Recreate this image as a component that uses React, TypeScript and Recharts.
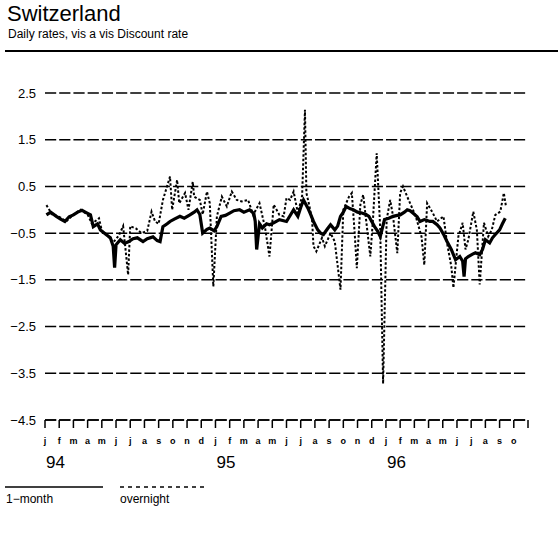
import React from 'react';
import { LineChart, Line, XAxis, YAxis, CartesianGrid } from 'recharts';

// months since Jan 1994 -> spread vs discount rate (pp)
const oneMonthTimes = [
  0.1, 0.4, 0.8, 1.1, 1.4, 1.7, 2.0, 2.3, 2.6, 2.9, 3.2, 3.4, 3.7, 3.9, 4.3, 4.6, 4.8, 4.9, 5.0, 5.3,
  5.6, 5.9, 6.2, 6.5, 6.9, 7.2, 7.6, 7.9, 8.1, 8.3, 8.6, 8.8, 9.1, 9.5, 9.8, 10.2, 10.5, 10.7, 10.9,
  11.1, 11.4, 11.6, 11.9, 12.1, 12.4, 12.7, 13.0, 13.3, 13.7, 14.0, 14.4, 14.7, 14.8, 14.9, 15.1,
  15.3, 15.6, 15.8, 16.1, 16.5, 17.0, 17.3, 17.5, 17.8, 18.0, 18.2, 18.5, 18.7, 18.9, 19.2, 19.4,
  19.6, 19.9, 20.1, 20.4, 20.6, 20.8, 21.0, 21.2, 21.5, 21.7, 22.0, 22.3, 22.6, 22.8, 23.0, 23.2,
  23.4, 23.6, 23.9, 24.2, 24.5, 24.8, 25.0, 25.3, 25.5, 25.7, 25.9, 26.2, 26.4, 26.7, 26.9, 27.1,
  27.3, 27.6, 27.8, 28.1, 28.3, 28.6, 28.9, 29.2, 29.4, 29.5, 29.6, 29.8, 30.1, 30.3, 30.6, 30.8,
  31.0, 31.3, 31.5, 31.7, 32.0, 32.2, 32.4,
];
const oneMonthRates = [
  -0.11, -0.05, -0.14, -0.2, -0.25, -0.15, -0.11, -0.05, -0.01, -0.06, -0.11, -0.36, -0.3, -0.43,
  -0.53, -0.6, -0.78, -1.24, -0.75, -0.64, -0.72, -0.68, -0.62, -0.6, -0.68, -0.62, -0.58, -0.66,
  -0.68, -0.36, -0.3, -0.25, -0.2, -0.14, -0.18, -0.11, -0.05, 0.0, -0.1, -0.5, -0.42, -0.39, -0.45,
  -0.36, -0.14, -0.12, -0.07, -0.02, 0.0, -0.05, 0.0, -0.08, -0.25, -0.85, -0.3, -0.39, -0.3, -0.32,
  -0.28, -0.21, -0.25, -0.1, 0.0, -0.14, 0.05, 0.21, 0.04, -0.1, -0.25, -0.43, -0.5, -0.53, -0.4,
  -0.32, -0.43, -0.35, -0.14, -0.05, 0.07, 0.02, 0.0, -0.05, -0.07, -0.1, -0.14, -0.25, -0.36, -0.45,
  -0.57, -0.21, -0.18, -0.14, -0.12, -0.11, -0.05, 0.0, -0.02, -0.07, -0.15, -0.25, -0.21, -0.23,
  -0.25, -0.25, -0.32, -0.39, -0.55, -0.68, -0.85, -1.07, -1.0, -1.1, -1.43, -1.05, -1.0, -0.95,
  -0.92, -0.96, -0.85, -0.64, -0.71, -0.6, -0.53, -0.43, -0.3, -0.18,
];

const overnightTimes = [
  0.1, 0.5, 1.0, 1.5, 2.0, 2.5, 3.0, 3.3, 3.8, 4.0, 4.4, 4.8, 5.2, 5.5, 5.85, 6.0, 6.4, 6.8, 7.2,
  7.5, 7.75, 8.0, 8.3, 8.45, 8.8, 8.95, 9.3, 9.45, 9.86, 10.1, 10.4, 10.5, 10.9, 11.1, 11.4, 11.6,
  11.85, 12.1, 12.45, 12.8, 13.15, 13.5, 13.85, 14.3, 14.65, 15.1, 15.5, 15.8, 16.1, 16.5, 16.8,
  17.0, 17.25, 17.5, 17.8, 18.1, 18.3, 18.4, 18.6, 18.8, 18.9, 19.1, 19.5, 19.7, 20.1, 20.4, 20.8,
  21.0, 21.4, 21.6, 21.8, 21.95, 22.2, 22.4, 22.6, 22.9, 23.1, 23.35, 23.6, 23.8, 24.05, 24.3, 24.5,
  24.8, 25.0, 25.2, 25.5, 25.8, 26.1, 26.5, 26.7, 26.9, 27.3, 27.6, 28.05, 28.3, 28.6, 28.75, 29.1,
  29.4, 29.6, 29.8, 30.15, 30.4, 30.6, 30.9, 31.2, 31.45, 31.7, 32.05, 32.3, 32.45,
];
const overnightRates = [
  0.1, -0.1, -0.15, -0.25, -0.1, 0.0, -0.1, -0.3, -0.18, -0.45, -0.55, -0.7, -0.55, -0.35, -1.39,
  -0.35, -0.4, -0.5, -0.45, -0.04, -0.25, -0.3, 0.21, 0.36, 0.71, 0.0, 0.64, 0.14, 0.36, 0.0, 0.6,
  0.28, 0.21, -0.1, 0.39, 0.14, -1.64, -0.14, 0.28, 0.07, 0.39, 0.21, 0.18, 0.21, -0.11, 0.14, -0.4,
  -1.0, 0.11, -0.11, -0.14, 0.25, 0.21, 0.39, -0.07, 0.3, 2.14, 0.36, 0.1, -0.21, -0.78, -0.89,
  -0.6, -0.78, -0.5, -0.68, -1.71, 0.0, 0.28, 0.36, -0.5, -1.25, 0.11, 0.32, -0.21, -1.0, -0.14,
  1.21, -0.43, -3.72, -0.21, 0.21, -0.14, -0.93, 0.36, 0.5, 0.28, 0.07, -0.14, -0.57, -1.18, 0.14,
  -0.07, -0.25, -0.14, -0.71, -1.21, -1.67, -0.57, -0.28, -0.85, -0.64, -0.04, -0.43, -1.6, -0.28,
  -0.57, -0.43, -0.11, -0.04, 0.36, 0.07,
];

const yTicks = [2.5, 1.5, 0.5, -0.5, -1.5, -2.5, -3.5, -4.5];
const monthLetters = ['j', 'f', 'm', 'a', 'm', 'j', 'j', 'a', 's', 'o', 'n', 'd'];
const yearLabels = ['94', '95', '96'];
const monthTicks = Array.from({ length: 35 }, (_, i) => i);

const oneMonthData = oneMonthTimes.map((t, i) => ({ t, v: oneMonthRates[i] }));
const overnightData = overnightTimes.map((t, i) => ({ t, v: overnightRates[i] }));

const MONTH_W = 483 / 34;
const dash = `${(MONTH_W - 3).toFixed(2)} 3`;
const font = '"Liberation Sans", Arial, sans-serif';

const MonthTick = (props: any) => {
  const { x, y, payload } = props;
  const m = payload.value as number;
  if (m >= 34) return null;
  return (
    <g>
      <text x={x} y={y + 14} textAnchor="middle" fontSize={9} fontWeight="bold" fontFamily={font} fill="#000">
        {monthLetters[m % 12]}
      </text>
      {m % 12 === 0 && (
        <text x={x + 1} y={y + 38} textAnchor="start" fontSize={17} fontFamily={font} fill="#000">
          {yearLabels[m / 12]}
        </text>
      )}
    </g>
  );
};

const App = () => {
  return (
    <div style={{ position: 'absolute', left: 0, top: 0, width: 558, height: 550, background: '#fff', fontFamily: font }}>
      <div style={{ position: 'absolute', left: 7, top: 1, fontSize: 22, color: '#000' }}>Switzerland</div>
      <div style={{ position: 'absolute', left: 8, top: 27, fontSize: 12, color: '#000' }}>
        Daily rates, vis a vis Discount rate
      </div>
      <div style={{ position: 'absolute', left: 5, top: 50, width: 553, height: 1.5, background: '#000' }} />

      <div style={{ position: 'absolute', left: 0, top: 0 }}>
        <LineChart width={558} height={500} margin={{ top: 93, right: 30, bottom: 20, left: 5 }}>
          <CartesianGrid
            horizontal
            vertical={false}
            stroke="#000"
            strokeWidth={1.5}
            strokeDasharray={dash}
          />
          <XAxis
            dataKey="t"
            type="number"
            domain={[0, 34]}
            ticks={monthTicks}
            interval={0}
            allowDataOverflow
            height={60}
            tickSize={8}
            tickMargin={2}
            axisLine={{ stroke: '#000', strokeWidth: 1.5, strokeDasharray: dash }}
            tickLine={{ stroke: '#000', strokeWidth: 1.5 }}
            tick={<MonthTick />}
          />
          <YAxis
            type="number"
            domain={[-4.5, 2.5]}
            ticks={yTicks}
            interval={0}
            width={40}
            axisLine={false}
            tickLine={false}
            tickSize={6}
            tickMargin={3}
            tick={{ fill: '#000', fontSize: 13, fontFamily: font }}
            tickFormatter={(v: number) => v.toFixed(1).replace('-', '\u2212')}
          />
          <Line
            data={overnightData}
            dataKey="v"
            type="linear"
            stroke="#000"
            strokeWidth={2}
            strokeDasharray="2.5 2"
            dot={false}
            isAnimationActive={false}
          />
          <Line
            data={oneMonthData}
            dataKey="v"
            type="linear"
            stroke="#000"
            strokeWidth={3.2}
            dot={false}
            isAnimationActive={false}
          />
        </LineChart>
      </div>

      <svg style={{ position: 'absolute', left: 0, top: 478 }} width={230} height={30}>
        <line x1={5} x2={103} y1={9} y2={9} stroke="#000" strokeWidth={1.5} />
        <line x1={120} x2={207} y1={9} y2={9} stroke="#000" strokeWidth={1.5} strokeDasharray="4 4" />
        <text x={6} y={25} fontSize={12} fontFamily={font} fill="#000">1{'\u2212'}month</text>
        <text x={120} y={25} fontSize={12} fontFamily={font} fill="#000">overnight</text>
      </svg>
    </div>
  );
};

export default App;
